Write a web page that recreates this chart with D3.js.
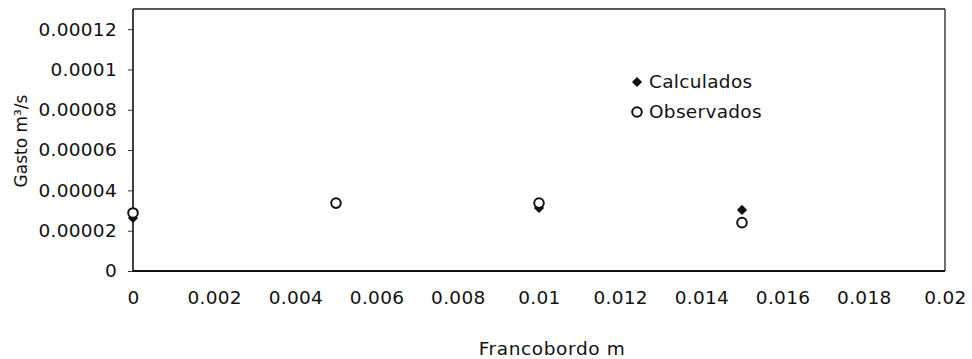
<!DOCTYPE html>
<html><head><meta charset="utf-8">
<script src="https://cdn.jsdelivr.net/npm/d3@7"></script>
<style>body{margin:0;background:#fff;} svg{display:block;} text{font-family:"DejaVu Sans",sans-serif;fill:#111;}</style>
</head><body><svg id="c" width="972" height="359"></svg>
<script>
const xValues = [0, 0.005, 0.01, 0.015];
const calculados = [0.0000263, 0.0000335, 0.0000313, 0.0000303];
const observados = [0.0000288, 0.0000337, 0.0000337, 0.0000240];
const xTicks = [0, 0.002, 0.004, 0.006, 0.008, 0.01, 0.012, 0.014, 0.016, 0.018, 0.02];
const xTickLabels = ["0","0.002","0.004","0.006","0.008","0.01","0.012","0.014","0.016","0.018","0.02"];
const yTicks = [0, 0.00002, 0.00004, 0.00006, 0.00008, 0.0001, 0.00012];
const yTickLabels = ["0","0.00002","0.00004","0.00006","0.00008","0.0001","0.00012"];
const seriesNames = ["Calculados", "Observados"];

const FS = "18.5px", LS = "0.3px";
const svg = d3.select("#c");
const L = 133, R = 945, T = 9, B = 271;
const x = d3.scaleLinear().domain([0, 0.02]).range([L, R]);
const y = d3.scaleLinear().domain([0, 0.00013]).range([B, T]);

// border
svg.append("line").attr("x1", L).attr("x2", R).attr("y1", T).attr("y2", T).attr("stroke", "#222").attr("stroke-width", 1.3);
svg.append("line").attr("x1", R).attr("x2", R).attr("y1", T).attr("y2", B).attr("stroke", "#222").attr("stroke-width", 1.3);

// y axis
const yAxis = d3.axisLeft(y).tickValues(yTicks).tickSize(5).tickPadding(11)
  .tickFormat((d, i) => yTickLabels[i]);
const gy = svg.append("g").attr("transform", `translate(${L},0)`).call(yAxis);
gy.select(".domain").attr("stroke", "#111").attr("stroke-width", 1.6).attr("d", `M0,${T}V${B}`);
gy.selectAll(".tick line").attr("stroke", "#333");
gy.selectAll("text").style("font-size", FS).style("letter-spacing", LS).attr("fill", "#111");

// x axis
const xAxis = d3.axisBottom(x).tickValues(xTicks).tickSize(0).tickPadding(20)
  .tickFormat((d, i) => xTickLabels[i]);
const gx = svg.append("g").attr("transform", `translate(0,${B})`).call(xAxis);
gx.select(".domain").attr("stroke", "#111").attr("stroke-width", 2.2).attr("d", `M${L},0H${R}`);
gx.selectAll("text").style("font-size", FS).style("letter-spacing", LS).attr("fill", "#111");

// axis titles
svg.append("text").attr("x", 552).attr("y", 355).attr("text-anchor", "middle")
  .style("font-size", FS).style("letter-spacing", "0.6px").text("Francobordo m");
svg.append("text").attr("transform", "translate(27,141) rotate(-90)").attr("text-anchor", "middle")
  .style("font-size", "17px").text("Gasto m³/s");

const dSym = d3.symbol().type(d3.symbolSquare).size(52);

// Calculados diamonds
svg.append("g").selectAll("path").data(xValues).join("path")
  .attr("d", dSym)
  .attr("transform", (d, i) => `translate(${x(d)},${y(calculados[i])}) rotate(45)`)
  .attr("fill", "#111");

// Observados circles
svg.append("g").selectAll("circle").data(xValues).join("circle")
  .attr("cx", d => x(d)).attr("cy", (d, i) => y(observados[i])).attr("r", 4.8)
  .attr("fill", "#fff").attr("stroke", "#111").attr("stroke-width", 2);

// legend
const lg = svg.append("g");
lg.append("path").attr("d", dSym())
  .attr("transform", "translate(637,82) rotate(45)").attr("fill", "#111");
lg.append("circle").attr("cx", 637).attr("cy", 112).attr("r", 4.8)
  .attr("fill", "#fff").attr("stroke", "#111").attr("stroke-width", 2);
lg.selectAll("text").data(seriesNames).join("text")
  .attr("x", 649).attr("y", (d, i) => 82 + i * 30).attr("dy", "0.35em")
  .style("font-size", FS).style("letter-spacing", LS).text(d => d);
</script></body></html>
